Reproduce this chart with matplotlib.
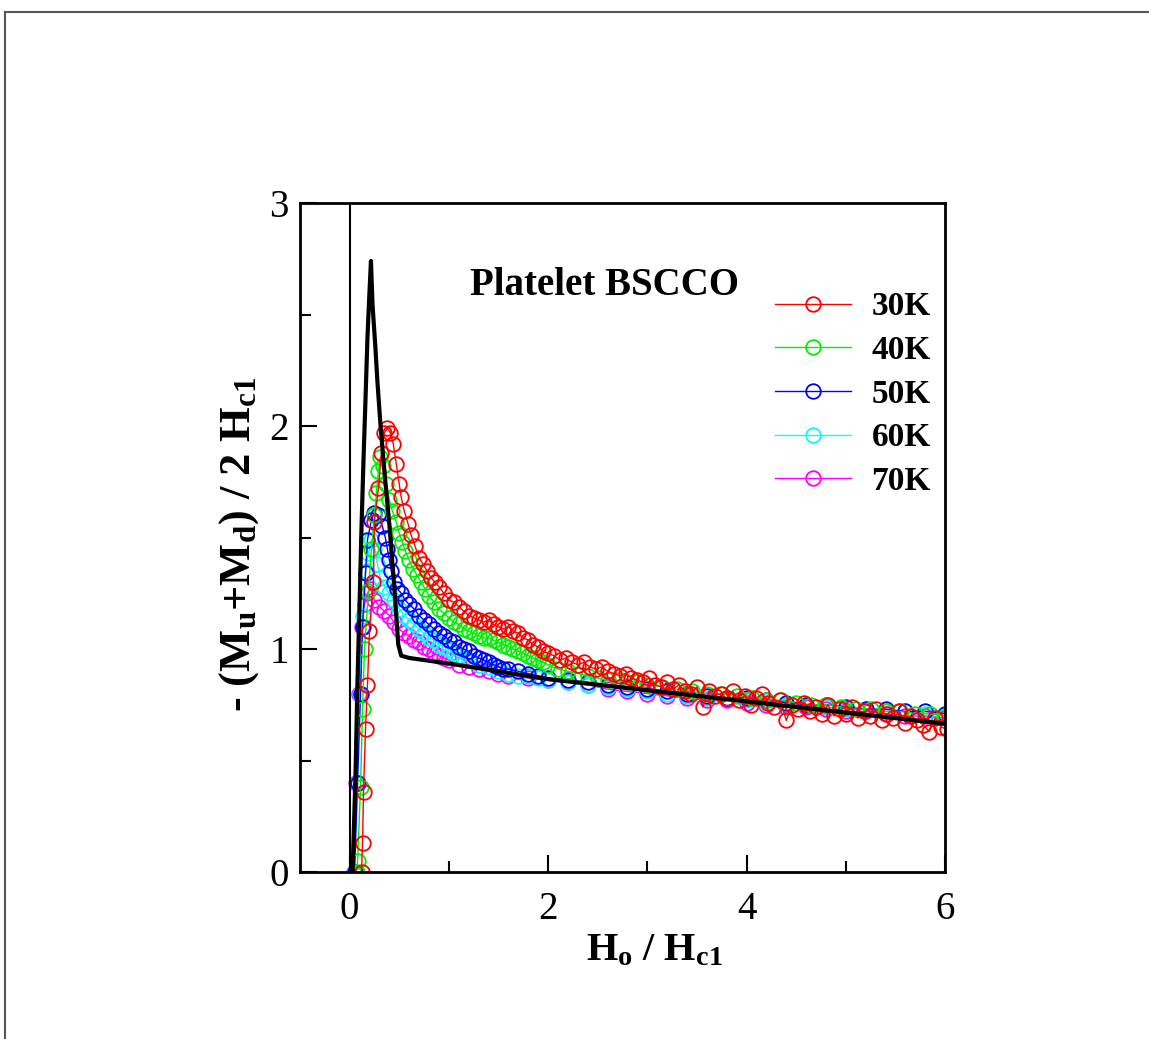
import numpy as np
import matplotlib
matplotlib.use('Agg')
import matplotlib.pyplot as plt
from matplotlib.lines import Line2D
from matplotlib.ticker import MultipleLocator

plt.rcParams['font.family'] = ['Liberation Serif', 'DejaVu Serif']
plt.rcParams['mathtext.fontset'] = 'custom'
plt.rcParams['mathtext.rm'] = 'Liberation Serif:bold'
plt.rcParams['mathtext.it'] = 'Liberation Serif:italic:bold'
plt.rcParams['mathtext.bf'] = 'Liberation Serif:bold'

# ---- data (H0/Hc1, -(Mu+Md)/2Hc1) ----
x_30 = [0.12, 0.13, 0.14, 0.16, 0.18, 0.20, 0.24, 0.25, 0.29, 0.32, 0.35, 0.38, 0.41, 0.44,
        0.47, 0.50, 0.52, 0.55, 0.59, 0.62, 0.66, 0.70, 0.74, 0.78, 0.82, 0.86, 0.90, 0.95,
        1.00, 1.05, 1.10, 1.15, 1.20, 1.25, 1.30, 1.35, 1.40, 1.45, 1.50, 1.55, 1.60, 1.65,
        1.70, 1.75, 1.80, 1.85, 1.90, 1.95, 2.00,
        2.06, 2.12, 2.18, 2.24, 2.30, 2.36, 2.42, 2.48, 2.54, 2.60, 2.66, 2.72, 2.78, 2.84,
        2.90, 2.96,
        3.02, 3.08, 3.14, 3.20, 3.26, 3.32, 3.38, 3.44, 3.50, 3.56, 3.62, 3.68, 3.74, 3.80,
        3.86, 3.92, 3.98,
        4.04, 4.10, 4.16, 4.22, 4.28, 4.34, 4.40, 4.46, 4.52, 4.58, 4.64, 4.70, 4.76, 4.82,
        4.88, 4.94,
        5.00, 5.06, 5.12, 5.18, 5.24, 5.30, 5.36, 5.42, 5.48, 5.54, 5.60, 5.66, 5.72, 5.78,
        5.84, 5.90, 5.96, 6.02]
y_30 = [0.00, 0.13, 0.36, 0.64, 0.84, 1.08, 1.30, 1.57, 1.72, 1.88, 1.97, 1.99, 1.97, 1.92,
        1.83, 1.74, 1.68, 1.62, 1.56, 1.51, 1.46, 1.41, 1.38, 1.35, 1.32, 1.30, 1.28, 1.25,
        1.22, 1.21, 1.19, 1.17, 1.15, 1.14, 1.13, 1.12, 1.13, 1.11, 1.10, 1.09, 1.10, 1.08,
        1.07, 1.05, 1.04, 1.02, 1.01, 0.99, 0.98,
        0.97, 0.95, 0.96, 0.94, 0.93, 0.94, 0.92, 0.91, 0.92, 0.90, 0.89, 0.88, 0.89, 0.87,
        0.86, 0.85,
        0.87, 0.84, 0.83, 0.85, 0.82, 0.84, 0.81, 0.80, 0.83, 0.74, 0.81, 0.79, 0.80, 0.78,
        0.81, 0.77, 0.79,
        0.75, 0.78, 0.80, 0.76, 0.74, 0.77, 0.68, 0.75, 0.73, 0.76, 0.72, 0.74, 0.71, 0.75,
        0.70, 0.73,
        0.71, 0.74, 0.69, 0.72, 0.70, 0.73, 0.68, 0.71, 0.69, 0.72, 0.67, 0.70, 0.68, 0.66,
        0.63, 0.69, 0.65, 0.64]

x_40 = [0.07, 0.08, 0.11, 0.13, 0.15, 0.19, 0.22, 0.25, 0.27, 0.29, 0.31, 0.34, 0.37, 0.40, 0.43,
        0.47, 0.50, 0.53, 0.56, 0.60, 0.64, 0.68, 0.72, 0.76, 0.80, 0.85, 0.90, 0.95,
        1.00, 1.05, 1.10, 1.15, 1.20, 1.25, 1.30, 1.35, 1.40, 1.45, 1.50, 1.55, 1.60, 1.65,
        1.70, 1.75, 1.80, 1.85, 1.90, 1.95, 2.00,
        2.10, 2.20, 2.30, 2.40, 2.50, 2.60, 2.70, 2.80, 2.90, 3.00,
        3.15, 3.30, 3.45, 3.60, 3.75, 3.90, 4.05, 4.20, 4.35, 4.50, 4.65, 4.80, 4.95, 5.10,
        5.25, 5.40, 5.55, 5.70, 5.85, 6.00]
y_40 = [0.00, 0.05, 0.38, 0.73, 1.00, 1.26, 1.45, 1.60, 1.70, 1.80, 1.86, 1.82, 1.74, 1.67, 1.62,
        1.57, 1.52, 1.48, 1.44, 1.40, 1.36, 1.33, 1.30, 1.27, 1.24, 1.21, 1.18, 1.16,
        1.14, 1.12, 1.11, 1.09, 1.08, 1.07, 1.06, 1.05, 1.05, 1.04, 1.03, 1.02, 1.01, 1.00,
        0.99, 0.98, 0.97, 0.96, 0.95, 0.94, 0.93,
        0.91, 0.90, 0.89, 0.88, 0.87, 0.86, 0.86, 0.85, 0.85, 0.84,
        0.83, 0.82, 0.81, 0.80, 0.80, 0.79, 0.78, 0.77, 0.77, 0.76, 0.75, 0.75, 0.74, 0.73,
        0.73, 0.72, 0.72, 0.71, 0.71, 0.70]

x_50 = [0.05, 0.08, 0.11, 0.13, 0.16, 0.18, 0.22, 0.25, 0.29, 0.33, 0.36, 0.38, 0.40, 0.42, 0.45,
        0.48, 0.52, 0.56, 0.60, 0.65, 0.70, 0.75, 0.80, 0.85, 0.90, 0.95,
        1.00, 1.05, 1.10, 1.15, 1.20, 1.25, 1.30, 1.35, 1.40, 1.45, 1.50, 1.55, 1.60,
        1.70, 1.80, 1.90, 2.00,
        2.20, 2.40, 2.60, 2.80, 3.00, 3.20, 3.40, 3.60, 3.80, 4.00, 4.20, 4.40, 4.60, 4.80,
        5.00, 5.20, 5.40, 5.60, 5.80, 6.00]
y_50 = [0.00, 0.40, 0.80, 1.10, 1.34, 1.49, 1.58, 1.61, 1.60, 1.55, 1.50, 1.45, 1.40, 1.35, 1.30,
        1.27, 1.25, 1.22, 1.20, 1.18, 1.15, 1.13, 1.11, 1.09, 1.07, 1.06,
        1.04, 1.03, 1.01, 1.00, 0.99, 0.97, 0.96, 0.95, 0.94, 0.93, 0.92, 0.91, 0.91,
        0.90, 0.89, 0.88, 0.87,
        0.86, 0.85, 0.84, 0.83, 0.82, 0.81, 0.80, 0.79, 0.78, 0.78, 0.77, 0.76, 0.75, 0.75,
        0.74, 0.73, 0.73, 0.72, 0.72, 0.71]

x_60 = [0.04, 0.07, 0.10, 0.13, 0.16, 0.19, 0.22, 0.25, 0.28, 0.31,
        0.35, 0.40, 0.45, 0.50, 0.55, 0.60, 0.65, 0.70, 0.75, 0.80, 0.85, 0.90, 0.95,
        1.00, 1.05, 1.10, 1.15, 1.20,
        1.30, 1.40, 1.50, 1.60, 1.70, 1.80, 1.90, 2.00,
        2.20, 2.40, 2.60, 2.80, 3.00, 3.20, 3.40, 3.60, 3.80, 4.00, 4.20, 4.40, 4.60, 4.80,
        5.00, 5.20, 5.40, 5.60, 5.80, 6.00]
y_60 = [0.00, 0.40, 0.80, 1.15, 1.35, 1.43, 1.49, 1.45, 1.38, 1.32,
        1.28, 1.25, 1.22, 1.18, 1.15, 1.13, 1.11, 1.09, 1.07, 1.05, 1.04, 1.02, 1.01,
        1.00, 0.98, 0.97, 0.96, 0.95,
        0.93, 0.92, 0.90, 0.89, 0.88, 0.88, 0.87, 0.86,
        0.85, 0.84, 0.83, 0.82, 0.81, 0.80, 0.79, 0.78, 0.78, 0.77, 0.76, 0.75, 0.75, 0.74,
        0.73, 0.73, 0.72, 0.72, 0.71, 0.71]

x_70 = [0.04, 0.06, 0.09, 0.12, 0.15, 0.18, 0.21,
        0.25, 0.30, 0.35, 0.40, 0.45, 0.50, 0.55, 0.60, 0.65, 0.70, 0.75, 0.80, 0.85, 0.90,
        0.95, 1.00,
        1.10, 1.20, 1.30, 1.40, 1.50, 1.60, 1.80, 2.00,
        2.20, 2.40, 2.60, 2.80, 3.00, 3.20, 3.40, 3.60, 3.80, 4.00, 4.20, 4.40, 4.60, 4.80,
        5.00, 5.20, 5.40, 5.60, 5.80, 6.00]
y_70 = [0.00, 0.40, 0.80, 1.10, 1.20, 1.25, 1.27,
        1.22, 1.19, 1.17, 1.15, 1.12, 1.09, 1.07, 1.06, 1.04, 1.03, 1.01, 1.00, 0.98, 0.97,
        0.96, 0.95,
        0.93, 0.92, 0.91, 0.90, 0.89, 0.88, 0.87, 0.86,
        0.85, 0.84, 0.82, 0.81, 0.80, 0.79, 0.78, 0.77, 0.77, 0.76, 0.75, 0.74, 0.74, 0.73,
        0.72, 0.72, 0.71, 0.70, 0.70, 0.69]

# model curve (black)
x_model = [0.03, 0.06, 0.08, 0.10, 0.12, 0.14, 0.16, 0.18, 0.20, 0.215, 0.23, 0.26, 0.28, 0.31,
           0.35, 0.40, 0.45, 0.49, 0.52, 0.60, 1.00, 1.50, 2.00, 2.50, 3.00, 3.50, 4.00, 4.50,
           5.00, 5.50, 6.00]
y_model = [0.00, 0.45, 0.87, 1.20, 1.55, 1.85, 2.12, 2.40, 2.60, 2.74, 2.55, 2.35, 2.20, 2.01,
           1.80, 1.56, 1.28, 1.02, 0.97, 0.96, 0.935, 0.90, 0.865, 0.84, 0.815, 0.79, 0.765, 0.74,
           0.715, 0.69, 0.665]

labels = ['30K', '40K', '50K', '60K', '70K']
colors = ['#ff0000', '#00ee00', '#0000ff', '#00ffff', '#ff00ff']
series = [(x_30, y_30), (x_40, y_40), (x_50, y_50), (x_60, y_60), (x_70, y_70)]

fig = plt.figure(figsize=(11.49, 10.39), dpi=100)
ax = fig.add_axes([0.2611, 0.1607, 0.5614, 0.6439])

# draw warmest first so 30K sits on top
handles = [None] * 5
for i in range(4, -1, -1):
    xs, ys = series[i]
    h, = ax.plot(xs, ys, '-o', color=colors[i], lw=1.0, ms=10.5, mfc='none', mew=1.3,
                 label=labels[i])
    handles[i] = h

ax.plot(x_model, y_model, '-', color='black', lw=3.0, zorder=10)
ax.axvline(0, color='black', lw=1.5, zorder=11)

ax.set_xlim(-0.5, 6)
ax.set_ylim(0, 3)
ax.xaxis.set_major_locator(MultipleLocator(2))
ax.xaxis.set_minor_locator(MultipleLocator(1))
ax.yaxis.set_major_locator(MultipleLocator(1))
ax.yaxis.set_minor_locator(MultipleLocator(0.5))
ax.tick_params(which='both', direction='in', top=False, right=False, width=1.5)
ax.tick_params(which='major', length=12)
ax.tick_params(which='minor', length=8)
ax.tick_params(axis='x', labelsize=28, pad=14)
ax.tick_params(axis='y', labelsize=28, pad=8)
for s in ax.spines.values():
    s.set_linewidth(2)

ax.set_xlabel(r'H$_{\rm o}$ / H$_{\rm c1}$', fontsize=29, fontweight='bold')
ax.xaxis.set_label_coords(0.55, -0.09)
ax.set_ylabel(r'- (M$_{\rm u}$+M$_{\rm d}$) / 2 H$_{\rm c1}$', fontsize=32,
              fontweight='bold', va='center')
ax.yaxis.set_label_coords(-0.095, 0.49)

ax.text(0.264, 0.876, 'Platelet BSCCO', transform=ax.transAxes, fontsize=28,
        fontweight='bold', va='center', ha='left')

leg = ax.legend(handles=handles, loc='upper left', bbox_to_anchor=(0.736, 0.868),
                frameon=False, numpoints=1, handlelength=2.3, handletextpad=0.6,
                labelspacing=0.38, borderpad=0, borderaxespad=0,
                prop={'size': 24, 'weight': 'bold'})

# page frame (top and left edges)
fig.add_artist(Line2D([0.0044, 0.0044], [0.0, 0.9885], transform=fig.transFigure,
                      color='#555555', lw=1.5))
fig.add_artist(Line2D([0.0044, 1.0], [0.9885, 0.9885], transform=fig.transFigure,
                      color='#555555', lw=1.5))

plt.savefig('out.png', dpi=100)
